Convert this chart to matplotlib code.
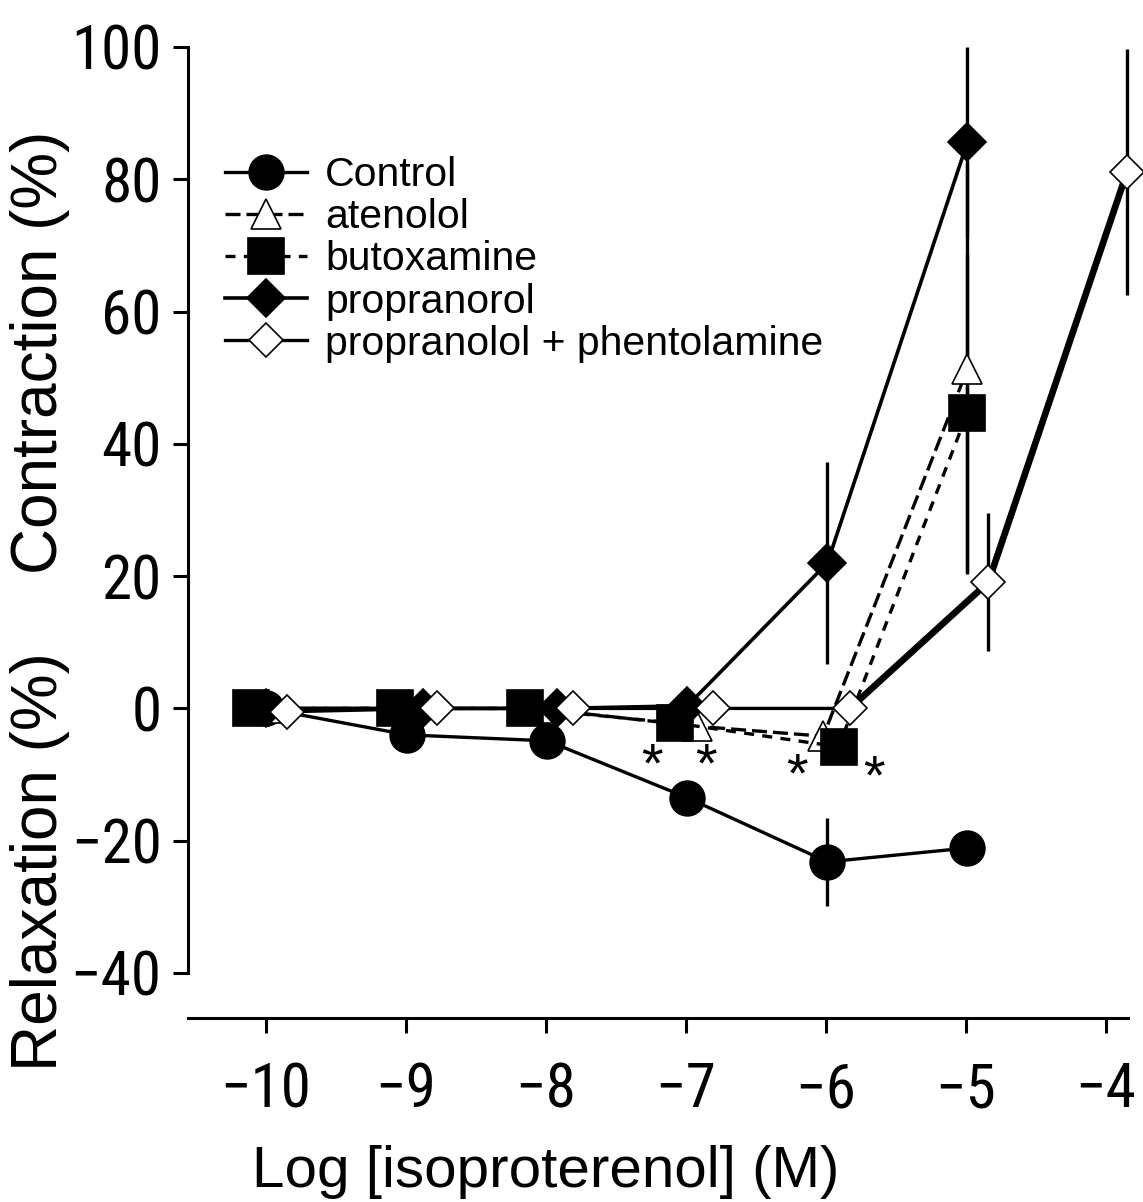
import numpy as np
import matplotlib
matplotlib.use('Agg')
import matplotlib.pyplot as plt
from matplotlib import font_manager
from matplotlib.font_manager import FontProperties

# data (log M, %)
control_x = [-10.0, -8.99, -7.99, -6.99, -5.99, -4.99]
control_y = [0.0, -4.0, -4.9, -13.5, -23.2, -21.1]
control_err = [0, 0, 0, 0, 6.6, 0]

atenolol_x = [-9.97, -9.04, -8.06, -6.92, -6.02, -4.99]
atenolol_y = [0.0, 0.0, 0.0, -2.7, -4.2, 51.3]
atenolol_err = [0, 0, 0, 0, 0, 31.0]

butoxamine_x = [-10.11, -9.08, -8.15, -7.08, -5.91, -4.99]
butoxamine_y = [0.0, 0.0, 0.0, -2.2, -5.8, 44.7]
butoxamine_err = [0, 0, 0, 0, 0, 24.0]

propranolol_x = [-10.0, -8.88, -7.92, -6.99, -5.99, -4.99]
propranolol_y = [0.0, 0.0, 0.0, 0.4, 22.0, 85.6]
propranolol_err = [0, 0, 0, 0, 15.3, 14.4]

combo_x = [-9.85, -8.78, -7.81, -6.81, -5.83, -4.84, -3.85]
combo_y = [-0.5, 0.0, 0.0, 0.0, 0.0, 19.1, 81.1]
combo_err = [0, 0, 0, 0, 0, 10.4, 18.6]

# significance marks
star_x = [-7.24, -6.86, -6.21, -5.66]
star_y = [-11.0, -11.0, -12.6, -12.9]

xticks = [-10, -9, -8, -7, -6, -5, -4]
yticks = [-40, -20, 0, 20, 40, 60, 80, 100]


# look for a narrow sans face for the tick numbers
def pick_narrow():
    fonts = [f for f in font_manager.fontManager.ttflist if f.style == 'normal']

    def regular(f):
        return str(f.weight) in ('400', 'normal', 'regular', 'book')

    tests = [
        lambda f: f.name == 'Liberation Sans Narrow',
        lambda f: f.name == 'Arial Narrow',
        lambda f: f.name == 'Roboto Condensed',
        lambda f: f.name in ('Noto Sans', 'Noto Sans Condensed') and f.stretch == 'condensed',
        lambda f: f.name in ('Noto Sans', 'Noto Sans SemiCondensed') and f.stretch == 'semi-condensed',
        lambda f: f.name in ('DejaVu Sans', 'DejaVu Sans Condensed') and f.stretch in ('condensed', 'semi-condensed'),
        lambda f: f.name == 'Open Sans Condensed',
    ]
    for t in tests:
        hits = [f for f in fonts if t(f) and regular(f)]
        if hits:
            return FontProperties(fname=hits[0].fname), True
    return FontProperties(family='Liberation Sans'), False


tick_fp, found = pick_narrow()
tick_size = 44 if found else 38

plt.rcParams['font.family'] = ['Liberation Sans', 'DejaVu Sans']

W, H = 1143, 1202
fig = plt.figure(figsize=(W / 100, H / 100), dpi=100)
ax = fig.add_axes([188 / W, 1 - 973 / H, 940 / W, 926 / H])


def draw(x, y, err, marker, ms, fc, ls, lw, label, z, dashes=None):
    x = np.array(x)
    y = np.array(y)
    err = np.array(err)
    m = err > 0
    ax.errorbar(x[m], y[m], yerr=err[m], fmt='none', ecolor='black',
                elinewidth=2.4, capsize=0, zorder=z, clip_on=False)
    kw = dict(color='black', lw=lw, ls=ls, marker=marker, ms=ms, mfc=fc,
              mec='black', mew=1.2, label=label, zorder=z + 0.5, clip_on=False)
    if dashes is not None:
        kw['dashes'] = dashes
    line, = ax.plot(x, y, **kw)
    return line


draw(control_x, control_y, control_err, 'o', 25, 'black', '-', 2.4, 'Control', 2)
draw(atenolol_x, atenolol_y, atenolol_err, '^', 22, 'white', '--', 2.4, 'atenolol', 3, dashes=(4.5, 1.8))
draw(butoxamine_x, butoxamine_y, butoxamine_err, 's', 26, 'black', '--', 2.4, 'butoxamine', 3.2, dashes=(3, 2.5))
draw(propranolol_x, propranolol_y, propranolol_err, 'D', 19, 'black', '-', 2.6, 'propranorol', 5)
draw(combo_x, combo_y, combo_err, 'D', 17, 'white', '-', 2.4, 'propranolol + phentolamine', 6)
ax.plot(combo_x[4:], combo_y[4:], color='black', lw=4.8, zorder=6, clip_on=False)

for sx, sy in zip(star_x, star_y):
    ax.text(sx, sy, '*', fontsize=40, ha='center', va='baseline')

handles, labels = ax.get_legend_handles_labels()
order = ['Control', 'atenolol', 'butoxamine', 'propranorol', 'propranolol + phentolamine']
hmap = dict(zip(labels, handles))
ax.legend([hmap[k] for k in order], order, loc='upper left',
          bbox_to_anchor=(0.039, 0.882), frameon=False, fontsize=29.5,
          handlelength=2.0, handletextpad=0.45, labelspacing=0.1,
          borderpad=0, borderaxespad=0)

ax.set_xlim(-10.557, -3.843)
ax.set_ylim(-40, 100)

for s in ['top', 'right']:
    ax.spines[s].set_visible(False)
ax.spines['left'].set_linewidth(2.2)
ax.spines['bottom'].set_linewidth(2.2)
ax.spines['bottom'].set_position(('outward', 32.4))

ax.set_xticks(xticks)
ax.set_xticklabels(['\u2212' + str(abs(v)) for v in xticks], fontproperties=tick_fp, fontsize=tick_size)
ax.set_yticks(yticks)
ax.set_yticklabels([('\u2212' if v < 0 else '') + str(abs(v)) for v in yticks],
                   fontproperties=tick_fp, fontsize=tick_size)
ax.tick_params(axis='both', direction='out', length=11, width=2.2)
ax.tick_params(axis='y', pad=8)
ax.tick_params(axis='x', pad=20)

fig.text(546 / W, 1 - 1187 / H, 'Log [isoproterenol] (M)', fontsize=42,
         ha='center', va='baseline')

fig.text(40 / W, 1 - 352 / H, 'Contraction (%)', rotation=90, fontsize=46,
         ha='center', va='center')
fig.text(40 / W, 1 - 862 / H, 'Relaxation (%)', rotation=90, fontsize=46,
         ha='center', va='center')

fig.savefig('out.png', dpi=100)
